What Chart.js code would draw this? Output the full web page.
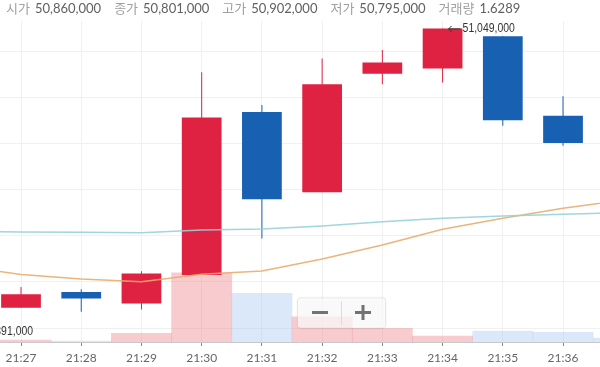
<!DOCTYPE html>
<html>
<head>
<meta charset="utf-8">
<script src="https://cdn.jsdelivr.net/npm/chart.js@4.4.1/dist/chart.umd.min.js"></script>
<style>
  html, body { margin: 0; padding: 0; background: #fff; }
</style>
</head>
<body>
<canvas id="candleChart" width="600" height="367"></canvas>
<script>
// one-minute candles, 21:26 and 21:37 sit just outside the visible window
const times = ['21:26', '21:27', '21:28', '21:29', '21:30', '21:31', '21:32', '21:33', '21:34', '21:35', '21:36', '21:37'];
const openPrices  = [50450000, 50444000, 50478000, 50453000, 50515000, 50868000, 50694000, 50951000, 50962000, 51032000, 50860000, 50801000];
const closePrices = [50430000, 50473000, 50464000, 50518000, 50856000, 50679000, 50928000, 50975000, 51049000, 50850000, 50801000, 50785000];
const highPrices  = [50462000, 50489000, 50484000, 50523000, 50954000, 50883000, 50984000, 51002000, 51049000, 51032000, 50902000, 50810000];
const lowPrices   = [50391000, 50444000, 50435000, 50440000, 50515000, 50594000, 50694000, 50928000, 50932000, 50838000, 50795000, 50770000];
const volumes     = [0.9, 0.34, 0.17, 1.46, 11.64, 8.18, 4.25, 2.30, 1.01, 1.85, 1.6289, 0.67];
const maShort     = [50609000, 50608000, 50607300, 50606400, 50612300, 50614500, 50621000, 50630300, 50637600, 50642600, 50646300, 50649700];
const maLong      = [50534300, 50515900, 50506200, 50500300, 50516300, 50523500, 50549500, 50579800, 50613800, 50637600, 50659300, 50676800];
const timeTicks   = [1, 2, 3, 4, 5, 6, 7, 8, 9, 10];
const priceTicks  = [50400000, 50500000, 50600000, 50700000, 50800000, 50900000, 51000000, 51100000];
const headerItems = [['시가', '50,860,000'], ['종가', '50,801,000'], ['고가', '50,902,000'], ['저가', '50,795,000'], ['거래량', '1.6289']];

const UP = 'rgb(224, 34, 66)';
const DOWN = 'rgb(24, 96, 178)';
const isUp = openPrices.map((o, i) => closePrices[i] >= o);

const fmt = v => v.toLocaleString('en-US');

// header strip with OHLC values of the last candle
const headerPlugin = {
    id: 'header',
    afterDraw(chart) {
        const c = chart.ctx;
        c.save();
        c.fillStyle = '#fff';
        c.fillRect(0, 0, chart.width, 21);
        c.font = '13px Lato, "Noto Sans CJK KR"';
        c.textBaseline = 'middle';
        let x = 6;
        headerItems.forEach(([label, value]) => {
            c.fillStyle = '#a0a0a0';
            c.fillText(label, x, 9);
            x += c.measureText(label).width + 5;
            c.fillStyle = '#606060';
            c.fillText(value, x, 9);
            x += c.measureText(value).width + 13;
        });
        c.restore();
    }
};

// high / low markers (narrow text)
const markerPlugin = {
    id: 'markers',
    afterDatasetsDraw(chart) {
        const c = chart.ctx;
        const xs = chart.scales.x, ys = chart.scales.y;
        const hi = highPrices.indexOf(Math.max(...highPrices));
        const lo = lowPrices.indexOf(Math.min(...lowPrices));
        c.save();
        c.font = '12px "Liberation Sans", Arial, sans-serif';
        c.textBaseline = 'middle';
        c.fillStyle = '#333';
        c.strokeStyle = '#333';
        c.lineWidth = 1;
        [[hi, highPrices[hi]], [lo, lowPrices[lo]]].forEach(([i, v]) => {
            const px = xs.getPixelForValue(i) + 6;
            const py = ys.getPixelForValue(v);
            c.beginPath();
            c.moveTo(px, py + 0.5);
            c.lineTo(px + 12, py + 0.5);
            c.moveTo(px + 3, py - 2.5);
            c.lineTo(px, py + 0.5);
            c.lineTo(px + 3, py + 3.5);
            c.stroke();
            c.save();
            c.translate(px + 14, py);
            c.scale(0.87, 1);
            c.fillText(fmt(v), 0, 0);
            c.restore();
        });
        c.restore();
    }
};

// the - / + zoom control overlay
const zoomBoxPlugin = {
    id: 'zoomBox',
    afterDraw(chart) {
        const c = chart.ctx;
        c.save();
        c.shadowColor = 'rgba(0,0,0,0.12)';
        c.shadowBlur = 3;
        c.fillStyle = 'rgba(255,255,255,0.72)';
        c.beginPath();
        c.roundRect(297.5, 298, 88, 30, 3);
        c.fill();
        c.shadowColor = 'transparent';
        c.strokeStyle = 'rgba(0,0,0,0.07)';
        c.stroke();
        c.strokeStyle = '#dcdcdc';
        c.beginPath();
        c.moveTo(341.5, 301);
        c.lineTo(341.5, 325);
        c.stroke();
        c.fillStyle = '#727272';
        c.fillRect(312, 311, 16, 3);
        c.fillRect(355, 311, 16, 3);
        c.fillRect(361.5, 305, 3, 15);
        c.restore();
    }
};

const ctx = document.getElementById('candleChart').getContext('2d');
const candleChart = new Chart(ctx, {
    type: 'bar',
    data: {
        datasets: [
            {
                type: 'line',
                data: maShort.map((v, i) => ({ x: i, y: v })),
                borderColor: 'rgba(150, 210, 216, 0.9)',
                borderWidth: 1.5,
                pointRadius: 0,
                order: 0
            },
            {
                type: 'line',
                data: maLong.map((v, i) => ({ x: i, y: v })),
                borderColor: 'rgba(232, 172, 110, 0.9)',
                borderWidth: 1.5,
                pointRadius: 0,
                order: 1
            },
            {
                // candle bodies
                data: openPrices.map((o, i) => ({ x: i, y: [o, closePrices[i]] })),
                backgroundColor: isUp.map(u => u ? UP : DOWN),
                grouped: false,
                barPercentage: 0.66,
                categoryPercentage: 1,
                order: 2
            },
            {
                // wicks
                data: lowPrices.map((l, i) => ({ x: i, y: [l, highPrices[i]] })),
                backgroundColor: isUp.map(u => u ? UP : DOWN),
                grouped: false,
                maxBarThickness: 1,
                order: 3
            },
            {
                data: volumes.map((v, i) => ({ x: i, y: v })),
                backgroundColor: isUp.map(u => u ? 'rgba(236, 120, 128, 0.38)' : 'rgba(160, 195, 240, 0.38)'),
                yAxisID: 'y2',
                grouped: false,
                barPercentage: 1,
                categoryPercentage: 1,
                order: 4
            }
        ]
    },
    options: {
        responsive: false,
        animation: false,
        layout: { padding: 0 },
        plugins: { legend: { display: false }, tooltip: { enabled: false } },
        scales: {
            x: {
                type: 'linear',
                offset: false,
                min: 0.651,
                max: 10.614,
                afterBuildTicks: s => { s.ticks = timeTicks.map(v => ({ value: v })); },
                afterFit: s => { s.height = 25; },
                ticks: {
                    callback: v => times[v],
                    color: '#666',
                    font: { family: 'Lato', size: 12 },
                    padding: 5,
                    maxRotation: 0,
                    autoSkip: false
                },
                grid: { color: '#f0f0f0', tickColor: '#888', tickLength: 4, offset: false },
                border: { color: '#c8c8c8' }
            },
            y: {
                min: 50369700,
                max: 51110500,
                afterBuildTicks: s => { s.ticks = priceTicks.map(v => ({ value: v })); },
                afterFit: s => { s.width = 0; },
                ticks: { display: false },
                grid: { color: '#f0f0f0', drawTicks: false },
                border: { display: false }
            },
            y2: { display: false, min: 0, max: 57.5 }
        }
    },
    plugins: [markerPlugin, zoomBoxPlugin, headerPlugin]
});
</script>
</body>
</html>
